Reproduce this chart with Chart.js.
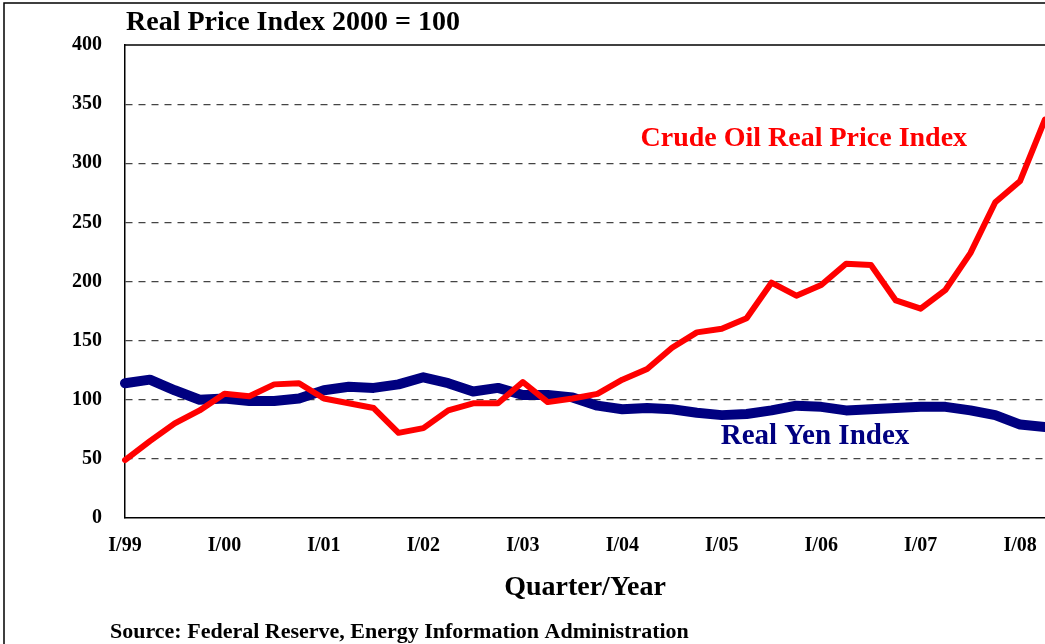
<!DOCTYPE html>
<html>
<head>
<meta charset="utf-8">
<script src="https://cdn.jsdelivr.net/npm/chart.js@4.4.1/dist/chart.umd.min.js"></script>
<style>
  html, body { margin: 0; padding: 0; background: #fff; }
  #wrap { width: 1045px; height: 644px; position: relative; }
</style>
</head>
<body>
<div id="wrap"><canvas id="priceChart"></canvas></div>
<script>
// quarterly categories, I/99 .. II/08
const quarters = [
  "I/99", "II/99", "III/99", "IV/99",
  "I/00", "II/00", "III/00", "IV/00",
  "I/01", "II/01", "III/01", "IV/01",
  "I/02", "II/02", "III/02", "IV/02",
  "I/03", "II/03", "III/03", "IV/03",
  "I/04", "II/04", "III/04", "IV/04",
  "I/05", "II/05", "III/05", "IV/05",
  "I/06", "II/06", "III/06", "IV/06",
  "I/07", "II/07", "III/07", "IV/07",
  "I/08", "II/08"
];

// values (2000 = 100)
const crudeOil = [
  49, 65, 80, 91, 105, 103, 113, 114, 101, 97, 93, 72,
  76, 91, 97, 97, 115, 98, 101, 105, 117, 126, 144, 157,
  160, 169, 199, 188, 197, 215, 214, 184, 177, 193, 224, 267,
  285, 337
];
const realYen = [
  114, 117, 108, 100, 101, 99, 99, 101, 108, 111, 110, 113,
  119, 114, 107, 110, 104, 104, 102, 95, 92, 93, 92, 89,
  87, 88, 91, 95, 94, 91, 92, 93, 94, 94, 91, 87,
  79, 77
];

const yTicks = [0, 50, 100, 150, 200, 250, 300, 350, 400];

const serif = '"Liberation Serif", "Times New Roman", serif';

// title, source line, outer frame and the two series notes
const extras = {
  id: "extras",
  afterDraw(chart) {
    const { ctx, chartArea, scales } = chart;
    ctx.save();
    ctx.strokeStyle = "#000";
    ctx.lineWidth = 1.5;
    ctx.beginPath();
    ctx.moveTo(4, 644);
    ctx.lineTo(4, 3);
    ctx.lineTo(1045, 3);
    ctx.stroke();

    ctx.beginPath();
    ctx.moveTo(chartArea.left, chartArea.top);
    ctx.lineTo(chartArea.right, chartArea.top);
    ctx.stroke();

    ctx.textBaseline = "middle";
    ctx.fillStyle = "#000";
    ctx.textAlign = "left";
    ctx.font = "bold 28px " + serif;
    ctx.fillText("Real Price Index 2000 = 100", 126, 23);

    ctx.font = "bold 22px " + serif;
    ctx.fillText("Source: Federal Reserve, Energy Information Administration", 110, 632);

    ctx.textAlign = "center";
    ctx.font = "bold 28px " + serif;
    ctx.fillStyle = "#ff0000";
    ctx.fillText("Crude Oil Real Price Index",
      scales.x.getPixelForValue(27.3), scales.y.getPixelForValue(321));
    ctx.font = "bold 29px " + serif;
    ctx.fillStyle = "#000080";
    ctx.fillText("Real Yen Index",
      scales.x.getPixelForValue(27.75), scales.y.getPixelForValue(68.5));
    ctx.restore();
  }
};

const ctx = document.getElementById("priceChart").getContext("2d");

new Chart(ctx, {
  type: "line",
  data: {
    labels: quarters,
    datasets: [
      {
        label: "Crude Oil Real Price Index",
        data: crudeOil,
        borderColor: "#ff0000",
        borderWidth: 6,
        pointRadius: 0,
        tension: 0,
        borderJoinStyle: "round",
        borderCapStyle: "round"
      },
      {
        label: "Real Yen Index",
        data: realYen,
        borderColor: "#000080",
        borderWidth: 10,
        pointRadius: 0,
        tension: 0,
        borderJoinStyle: "round",
        borderCapStyle: "round"
      }
    ]
  },
  options: {
    responsive: true,
    maintainAspectRatio: false,
    animation: false,
    layout: { padding: { top: 45, left: 0, right: 0, bottom: 0 } },
    plugins: {
      legend: { display: false },
      title: { display: false },
      tooltip: { enabled: false }
    },
    scales: {
      x: {
        offset: false,
        grid: { display: false, drawTicks: false },
        border: { display: true, color: "#000", width: 1.5 },
        ticks: {
          autoSkip: false,
          maxRotation: 0,
          padding: 16,
          color: "#000",
          font: { family: serif, size: 20, weight: "bold" },
          callback: function (value, index) {
            const q = quarters[index];
            return q.split("/")[0] === "I" ? q : "";
          }
        },
        title: {
          display: true,
          text: "Quarter/Year",
          color: "#000",
          font: { family: serif, size: 28, weight: "bold" },
          padding: { top: 0, bottom: 39 }
        },
        afterFit: function (scale) {
          scale.height = 126;
          scale.paddingLeft = 0;
          scale.paddingRight = 0;
        }
      },
      y: {
        min: 0,
        max: 400,
        afterBuildTicks: function (scale) {
          scale.ticks = yTicks.map(v => ({ value: v }));
        },
        grid: {
          drawTicks: false,
          color: function (c) {
            return (c.tick.value === 0 || c.tick.value === 400) ? "rgba(0,0,0,0)" : "#444";
          },
          lineWidth: 1.2
        },
        border: { display: true, color: "#000", width: 1.5, dash: [7, 6] },
        ticks: {
          padding: 23,
          color: "#000",
          font: { family: serif, size: 20, weight: "bold" }
        },
        afterFit: function (scale) { scale.width = 125; }
      }
    }
  },
  plugins: [extras]
});
</script>
</body>
</html>
